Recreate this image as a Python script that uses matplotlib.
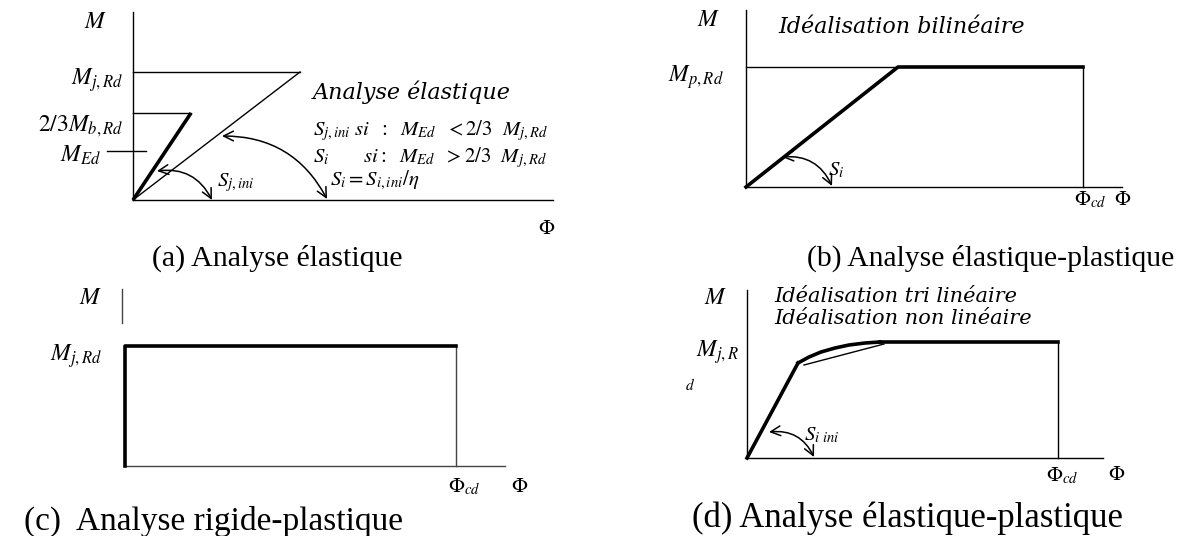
import matplotlib
matplotlib.use("Agg")
import matplotlib.pyplot as plt
from matplotlib.patches import FancyArrowPatch

plt.rcParams['mathtext.fontset'] = 'stix'
plt.rcParams['font.family'] = ['Liberation Serif', 'DejaVu Serif']

W, H = 1180, 536
THICK, THIN = 2.6, 1.0

# ---- panel data (local units: phi to the right, M upward) ----
# (a) elastic analysis
a_origin = (133, 200)
a_axis_len = [420, 188]           # x-axis length, y-axis height
a_M = [128, 87, 49]               # M_jRd, 2/3 M_jRd, M_Ed
a_phi = [167, 58]                 # phi at M_jRd (S_i line), phi at 2/3 (S_j,ini line)
a_arc1 = [(24, 29), (79, 0)]
a_arc2 = [(89, 64), (194, 1)]

# (b) elastic-plastic bilinear
b_origin = (746, 187)
b_axis_len = [376, 177]
b_M = [120]
b_phi = [152, 337]                # knee, phi_cd
b_arc = [(36, 30), (86, 1)]

# (c) rigid-plastic
c_origin = (125, 466)
c_axis_len = [380, 177]
c_M = [120]
c_phi = [331]

# (d) elastic-plastic non-linear
d_origin = (747, 458)
d_axis_len = [356, 168]
d_knee = (51, 95)
d_M = [116]
d_phi = [133, 311]
d_curve_phi = [51, 62, 74, 88, 102, 118, 133]
d_curve_M = [95, 101, 106, 110, 113, 115, 116]
d_tri_phi = [57, 137]
d_tri_M = [93, 114]
d_arc = [(22, 26), (67, 1)]

fig = plt.figure(figsize=(W / 100, H / 100), dpi=100)


def panel(origin):
    ax = fig.add_axes([0, 0, 1, 1])
    ox, oy = origin
    ax.set_xlim(-ox, W - ox)
    ax.set_ylim(-(H - oy), oy)
    ax.axis('off')
    ax.patch.set_alpha(0)
    return ax


def arc(ax, p0, p1, rad):
    ar = FancyArrowPatch(p0, p1, connectionstyle=f"arc3,rad={rad}",
                         arrowstyle="<->,head_length=7,head_width=3.5",
                         lw=1.1, color='black', shrinkA=0, shrinkB=0)
    ax.add_patch(ar)


lab = dict(fontsize=17, color='black')
sm = dict(fontsize=15, color='black')
cap = dict(color='black', family='Liberation Serif')
it = dict(fontsize=16, color='black', family='DejaVu Serif', style='italic')
it2 = dict(fontsize=15, color='black', family='DejaVu Serif', style='italic')
PHI = r'$\mathit{\Phi}$'

# ---------------- (a) ----------------
ax = panel(a_origin)
ax.plot([0, a_axis_len[0]], [0, 0], color='black', lw=THIN)
ax.plot([0, 0], [0, a_axis_len[1]], color='black', lw=THIN)
ax.plot([0, a_phi[0]], [a_M[0], a_M[0]], color='black', lw=THIN)
ax.plot([0, a_phi[0]], [0, a_M[0]], color='black', lw=THIN)
ax.plot([0, a_phi[1]], [a_M[1], a_M[1]], color='black', lw=THIN)
ax.plot([0, a_phi[1]], [0, a_M[1]], color='black', lw=THICK, solid_capstyle='butt')
ax.plot([-26, 13], [a_M[2], a_M[2]], color='black', lw=THIN)
arc(ax, a_arc1[0], a_arc1[1], -0.35)
arc(ax, a_arc2[0], a_arc2[1], -0.3)
ax.text(-26, 178, r'$M$', ha='right', va='center', **lab)
ax.text(-10, 120, r'$M_{j,Rd}$', ha='right', va='center', **lab)
ax.text(-10, 74, r'$2/3M_{b,Rd}$', ha='right', va='center', **lab)
ax.text(-32, 45, r'$M_{Ed}$', ha='right', va='center', **lab)
ax.text(84, 17, r'$S_{j,ini}$', ha='left', va='center', **sm)
ax.text(180, 108, 'Analyse élastique', ha='left', va='center', **it)
ax.text(180, 69, r'$S_{j,ini}\ si\ \ :\ \ M_{Ed}\ \ <2/3\ \ M_{j,Rd}$', ha='left', va='center', **sm)
ax.text(180, 42, r'$S_i\qquad\ si{:}\ \ M_{Ed}\ \ >2/3\ \ M_{j,Rd}$', ha='left', va='center', **sm)
ax.text(197, 20, r'$S_i=S_{i,ini}/\eta$', ha='left', va='center', **sm)
ax.text(414, -29, PHI, ha='center', va='center', **sm)
ax.text(144, -58, '(a) Analyse élastique', ha='center', va='center', fontsize=21.5, **cap)

# ---------------- (b) ----------------
ax = panel(b_origin)
ax.plot([0, b_axis_len[0]], [0, 0], color='black', lw=THIN)
ax.plot([0, 0], [0, b_axis_len[1]], color='black', lw=THIN)
ax.plot([0, b_phi[0]], [b_M[0], b_M[0]], color='black', lw=THIN)
ax.plot([b_phi[1], b_phi[1]], [0, b_M[0]], color='black', lw=THIN)
ax.plot([0, b_phi[0], b_phi[1]], [0, b_M[0], b_M[0]], color='black', lw=THICK)
arc(ax, b_arc[0], b_arc[1], -0.35)
ax.text(-26, 167, r'$M$', ha='right', va='center', **lab)
ax.text(-22, 110, r'$M_{p,Rd}$', ha='right', va='center', **lab)
ax.text(32, 160, 'Idéalisation bilinéaire', ha='left', va='center', **it)
ax.text(82, 17, r'$S_i$', ha='left', va='center', **sm)
ax.text(328, -13, r'$\mathit{\Phi}_{cd}\ \ \mathit{\Phi}$', ha='left', va='center', **sm)
ax.text(245, -71, '(b) Analyse élastique-plastique', ha='center', va='center', fontsize=21.3, **cap)

# ---------------- (c) ----------------
ax = panel(c_origin)
ax.plot([0, c_axis_len[0]], [0, 0], color='#444444', lw=THIN)
ax.plot([-3, -3], [143, c_axis_len[1]], color='#444444', lw=THIN)
ax.plot([c_phi[0], c_phi[0]], [0, c_M[0]], color='#444444', lw=THIN)
ax.plot([0, 0, c_phi[0]], [0, c_M[0], c_M[0]], color='black', lw=THICK)
ax.text(-23, 168, r'$M$', ha='right', va='center', **lab)
ax.text(-23, 110, r'$M_{j,Rd}$', ha='right', va='center', **lab)
ax.text(339, -21, r'$\mathit{\Phi}_{cd}$', ha='center', va='center', **sm)
ax.text(395, -21, PHI, ha='center', va='center', **sm)
ax.text(88, -55, '(c)  Analyse rigide-plastique', ha='center', va='center', fontsize=24, **cap)

# ---------------- (d) ----------------
ax = panel(d_origin)
ax.plot([0, d_axis_len[0]], [0, 0], color='black', lw=THIN)
ax.plot([0, 0], [0, d_axis_len[1]], color='black', lw=THIN)
ax.plot([d_phi[1], d_phi[1]], [0, d_M[0]], color='black', lw=THIN)
ax.plot([0, d_knee[0]], [0, d_knee[1]], color='black', lw=THICK)
ax.plot(d_curve_phi, d_curve_M, color='black', lw=THICK)
ax.plot([d_phi[0], d_phi[1]], [d_M[0], d_M[0]], color='black', lw=THICK)
ax.plot(d_tri_phi, d_tri_M, color='black', lw=THIN)
arc(ax, d_arc[0], d_arc[1], -0.35)
ax.text(-20, 160, r'$M$', ha='right', va='center', **lab)
ax.text(27, 161, 'Idéalisation tri linéaire', ha='left', va='center', **it2)
ax.text(27, 140, 'Idéalisation non linéaire', ha='left', va='center', **it2)
ax.text(-8, 106, r'$M_{j,R}$', ha='right', va='center', **lab)
ax.text(-57, 73, r'$d$', ha='center', va='center', fontsize=11)
ax.text(57, 23, r'$S_{i\ ini}$', ha='left', va='center', **sm)
ax.text(315, -18, r'$\mathit{\Phi}_{cd}$', ha='center', va='center', **sm)
ax.text(370, -18, PHI, ha='center', va='center', **sm)
ax.text(161, -60, '(d) Analyse élastique-plastique', ha='center', va='center', fontsize=25, **cap)

fig.savefig('out.png', dpi=100)
